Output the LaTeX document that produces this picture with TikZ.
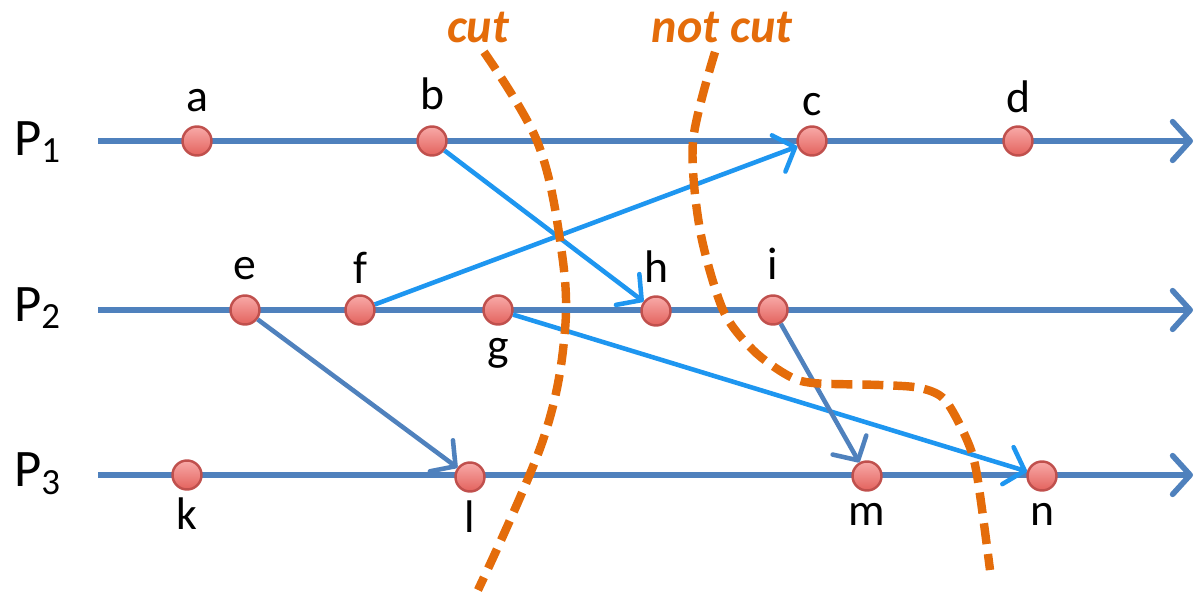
\documentclass[tikz,border=0pt]{standalone}
\usepackage{fontspec}
\setmainfont{Carlito}
\usepackage{tikz}
\usetikzlibrary{arrows.meta,positioning}
\definecolor{lineblue}{HTML}{4F81BD}
\definecolor{msgblue}{HTML}{1E96F0}
\definecolor{cutorange}{HTML}{E46C0A}
\definecolor{dotedge}{HTML}{C0504D}
\definecolor{dottop}{HTML}{F8AAA8}
\definecolor{dotbot}{HTML}{E3625D}

\begin{document}
\begin{tikzpicture}[>={Straight Barb[length=5pt,width=11pt,round]},
    timeline/.style={lineblue,line width=1.6pt,->},
    event/.style={circle,draw=dotedge,line width=0.7pt,top color=dottop,bottom color=dotbot,minimum size=0.29cm,inner sep=0pt},
    lbl/.style={font=\fontsize{13}{15}\selectfont,inner sep=0pt,text height=9pt,text depth=0pt},
    proc/.style={font=\fontsize{15}{17}\selectfont},
    msg/.style={msgblue,line width=1.3pt,->},
    msgdark/.style={lineblue,line width=1.3pt,->},
    cutline/.style={cutorange,line width=2.4pt,dash pattern=on 0.21cm off 0.1cm},
    cutlbl/.style={cutorange,font=\fontsize{13.7}{16}\selectfont\bfseries\itshape}]
    \useasboundingbox (0,0) rectangle (11.98,5.94);

    \node[proc] (p1) at (0.38,4.52) {P\textsubscript{1}};
    \node[proc] (p2) at (0.38,2.86) {P\textsubscript{2}};
    \node[proc] (p3) at (0.38,1.20) {P\textsubscript{3}};
    \coordinate (s1) at (0.98,4.53); \coordinate (t1) at (11.93,4.53);
    \coordinate (s2) at (0.98,2.84); \coordinate (t2) at (11.93,2.84);
    \coordinate (s3) at (0.98,1.19); \coordinate (t3) at (11.93,1.19);
    \draw[timeline] (s1) -- (t1);
    \draw[timeline] (s2) -- (t2);
    \draw[timeline] (s3) -- (t3);

    \node[event] (a) at (1.97,4.53) {};
    \node[event] (b) at (4.32,4.53) {};
    \node[event] (c) at (8.12,4.53) {};
    \node[event] (d) at (10.18,4.53) {};
    \node[event] (e) at (2.45,2.84) {};
    \node[event] (f) at (3.60,2.84) {};
    \node[event] (g) at (4.98,2.84) {};
    \node[event] (h) at (6.56,2.83) {};
    \node[event] (i) at (7.73,2.84) {};
    \node[event] (k) at (1.87,1.19) {};
    \node[event] (l) at (4.70,1.17) {};
    \node[event] (m) at (8.67,1.18) {};
    \node[event] (n) at (10.42,1.18) {};

    \node[lbl,above=0.13cm of a] (la) {a};
    \node[lbl,above=0.15cm of b] (lb) {b};
    \node[lbl,above=0.09cm of c] (lc) {c};
    \node[lbl,above=0.12cm of d] (ld) {d};
    \node[lbl,above=0.14cm of e] (le) {e};
    \node[lbl,above=0.10cm of f] (lf) {f};
    \node[lbl,above=0.12cm of h] (lh) {h};
    \node[lbl,above=0.14cm of i] (li) {i};
    \node[lbl,below=0.02cm of g] (lg) {g};
    \node[lbl,below=0.06cm of k] (lk) {k};
    \node[lbl,below=0.07cm of l] (ll) {l};
    \node[lbl,below=0.01cm of m] (lm) {m};
    \node[lbl,below=0.01cm of n] (ln) {n};

    \draw[msg] (b) -- (h);
    \draw[msg] (f) -- (c);
    \draw[msg] (g) -- (n);
    \draw[msgdark] (e) -- (l);
    \draw[msgdark] (i) -- (m);

    \node[cutlbl] (cut) at (4.78,5.67) {cut};
    \node[cutlbl] (notcut) at (7.22,5.67) {not cut};
    \draw[cutline] plot[smooth,tension=0.6] coordinates {(4.84,5.42) (5.37,4.53) (5.60,3.54) (5.65,2.64) (5.43,1.54) (4.78,0.04)};
    \draw[cutline] plot[smooth,tension=0.5] coordinates {(7.15,5.42) (6.93,4.53) (7.00,3.64) (7.23,2.84) (7.53,2.44) (7.87,2.19) (8.13,2.11) (8.80,2.09) (9.20,2.06) (9.45,1.94) (9.67,1.54) (9.77,1.19) (9.90,0.24)};
\end{tikzpicture}
\end{document}
